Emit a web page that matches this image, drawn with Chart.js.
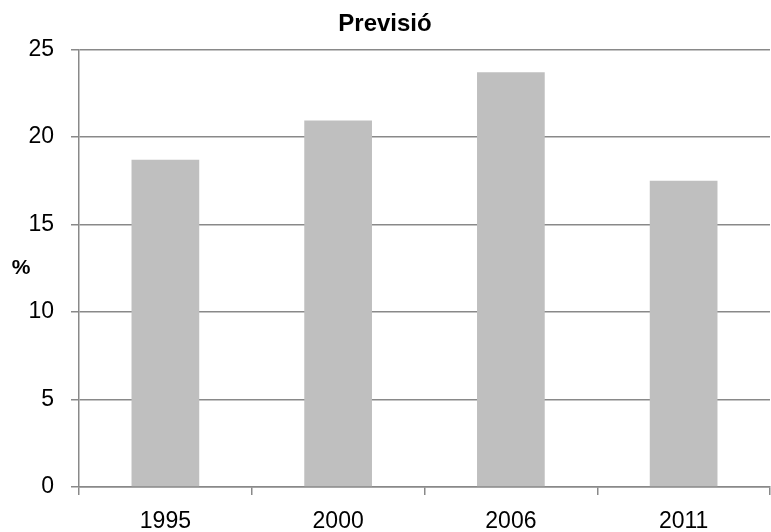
<!DOCTYPE html>
<html>
<head>
<meta charset="utf-8">
<script src="https://cdn.jsdelivr.net/npm/chart.js@4"></script>
<style>
html,body{margin:0;padding:0;background:#fff;}
#wrap{width:771px;height:532px;position:relative;}
</style>
</head>
<body>
<div id="wrap"><canvas id="c" width="771" height="532"></canvas></div>
<script>
const categories = ['1995', '2000', '2006', '2011'];
const values = [18.7, 20.95, 23.7, 17.5];
const yTicks = [0, 5, 10, 15, 20, 25];
const titleText = 'Previsió';
const yLabel = '%';

const FONT = "'Liberation Sans', Arial, sans-serif";
const GRID = '#898989';

const yLabelPlugin = {
  id: 'yLabel',
  afterDraw(chart) {
    const ctx = chart.ctx;
    const a = chart.chartArea;
    ctx.save();
    ctx.font = "bold 21px " + FONT;
    ctx.fillStyle = '#000';
    ctx.textAlign = 'center';
    ctx.textBaseline = 'middle';
    ctx.fillText(yLabel, 21, (a.top + a.bottom) / 2);
    ctx.restore();
  }
};

new Chart(document.getElementById('c'), {
  type: 'bar',
  data: {
    labels: categories,
    datasets: [{
      data: values,
      backgroundColor: '#BFBFBF',
      borderWidth: 0,
      barPercentage: 0.392,
      categoryPercentage: 1
    }]
  },
  options: {
    responsive: false,
    animation: false,
    devicePixelRatio: 1,
    layout: { padding: { left: 0, right: 1, top: 0, bottom: 0 } },
    plugins: {
      legend: { display: false },
      tooltip: { enabled: false },
      title: {
        display: true,
        text: titleText,
        color: '#000',
        font: { family: FONT, size: 24, weight: 'bold', lineHeight: 1.2 },
        padding: { top: 10, bottom: 10.7 }
      }
    },
    scales: {
      x: {
        offset: true,
        grid: { offset: true, drawOnChartArea: false, drawTicks: true, tickLength: 8, color: GRID, lineWidth: 1.5 },
        border: { color: GRID, width: 1.5 },
        ticks: { color: '#000', font: { family: FONT, size: 23 }, padding: 13 },
        afterFit(s) { s.height = 45; }
      },
      y: {
        min: 0,
        max: 25,
        afterBuildTicks(s) { s.ticks = yTicks.map(v => ({ value: v })); },
        grid: { color: GRID, lineWidth: 1.5, drawTicks: true, tickLength: 8 },
        border: { color: GRID, width: 1.5 },
        ticks: { color: '#000', font: { family: FONT, size: 23 }, padding: 17 },
        afterFit(s) { s.width = 79; }
      }
    }
  },
  plugins: [yLabelPlugin]
});
</script>
</body>
</html>
